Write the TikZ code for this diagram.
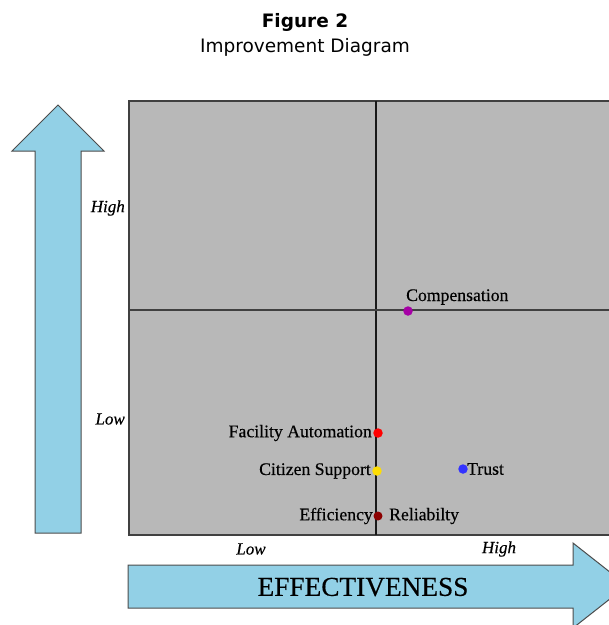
\documentclass[tikz,border=0pt]{standalone}
\usepackage{fontspec}
\setmainfont{Liberation Serif}
\newfontfamily\heavyserif[FakeBold=0.4]{Liberation Serif}
\newfontfamily\titlefont{DejaVu Sans}
\begin{document}
\begin{tikzpicture}[x=1pt,y=-1pt,
  arrowshape/.style={fill=arrowblue,draw=black!70,line width=1pt,line join=miter},
  axislabel/.style={font=\heavyserif\fontsize{17}{17}\selectfont\itshape,inner sep=0pt},
  pointlabel/.style={font=\heavyserif\fontsize{17.7}{17.7}\selectfont,inner sep=0pt},
  dot/.style={circle,minimum size=9.5pt,inner sep=0pt}]
\definecolor{arrowblue}{RGB}{146,208,230}
\definecolor{quadgrey}{RGB}{184,184,184}
\useasboundingbox (0,0) rectangle (609,625);
\clip (0,0) rectangle (609,625);
% title
\node[font=\titlefont\bfseries\fontsize{18.5}{18.5}\selectfont,inner sep=0pt] (fig) at (305,22) {Figure 2};
\node[font=\titlefont\fontsize{18.5}{18.5}\selectfont,inner sep=0pt] (sub) at (305,47) {Improvement Diagram};
% vertical arrow
\draw[arrowshape] (35,533) -- (35,151) -- (12,151) -- (58,105) -- (104,151) -- (81,151) -- (81,533) -- cycle;
% horizontal arrow
\draw[arrowshape] (128,565) -- (573,565) -- (573,543) -- (627,585.5) -- (573,628) -- (573,608) -- (128,608) -- cycle;
% quadrant box
\fill[quadgrey] (129,101) rectangle (620,535);
\draw[black!75,line width=1.6pt] (620,101) -- (129,101) -- (129,535) -- (620,535);
\coordinate (vtop) at (376,101);
\coordinate (vbot) at (376,535);
\coordinate (hleft) at (129,310);
\coordinate (hright) at (620,310);
\draw[black!90,line width=1.5pt] (vtop) -- (vbot);
\draw[black!75,line width=1.3pt] (hleft) -- (hright);
% axis labels
\node[axislabel,anchor=east] (yhigh) at (125,208) {High};
\node[axislabel,anchor=east] (ylow) at (125,419) {Low};
\node[axislabel] (xlow) at (251,549) {Low};
\node[axislabel] (xhigh) at (499,549) {High};
\node[font=\heavyserif\fontsize{27.3}{27.3}\selectfont,inner sep=0pt] (eff) at (363,587) {EFFECTIVENESS};
% points
\node[dot,fill=violet!70!magenta] (comp) at (408,311) {};
\node[pointlabel,anchor=base west] (compl) at (406,301) {Compensation};
\node[dot,fill=red] (fac) at (378,433) {};
\node[pointlabel,anchor=east] (facl) at (372,433) {Facility Automation};
\node[dot,fill=yellow!80!orange] (cit) at (377,471) {};
\node[pointlabel,anchor=east] (citl) at (371,471) {Citizen Support};
\node[dot,fill=blue!80!white] (tru) at (463,469) {};
\node[pointlabel,anchor=west] (trul) at (467,469) {Trust};
\node[dot,fill=red!55!black,minimum size=9pt] (eff2) at (378,516) {};
\node[pointlabel,anchor=east] (effl) at (373,516) {Efficiency};
\node[pointlabel,anchor=west] (rell) at (389,516) {Reliabilty};
\end{tikzpicture}
\end{document}
